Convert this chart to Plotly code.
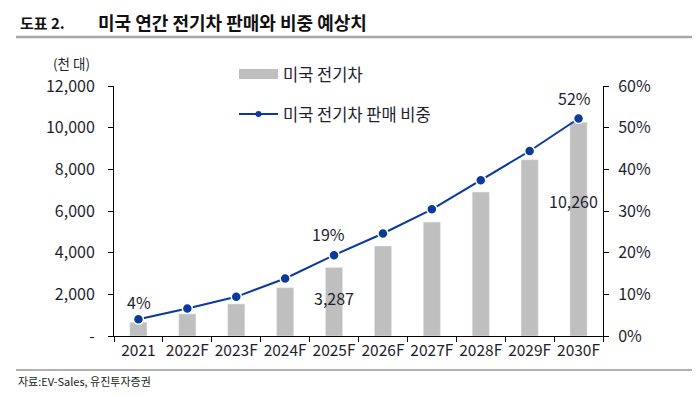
import plotly.graph_objects as go

categories = ["2021", "2022F", "2023F", "2024F", "2025F", "2026F", "2027F", "2028F", "2029F", "2030F"]
ev_sales = [660, 1060, 1540, 2320, 3287, 4320, 5470, 6910, 8460, 10260]
ev_share = [4.0, 6.6, 9.4, 13.8, 19.4, 24.6, 30.4, 37.4, 44.4, 52.2]
left_ticks = [0, 2000, 4000, 6000, 8000, 10000, 12000]
left_tick_text = ["-", "2,000", "4,000", "6,000", "8,000", "10,000", "12,000"]
right_ticks = [0, 10, 20, 30, 40, 50, 60]
right_tick_text = ["0%", "10%", "20%", "30%", "40%", "50%", "60%"]
bar_labels = {"2025F": "3,287", "2030F": "10,260"}
share_labels = {"2021": "4%", "2025F": "19%", "2030F": "52%"}

FONT = "Noto Sans CJK KR, Noto Sans, sans-serif"
BAR_C = "#bfbfbf"
LINE_C = "#0a3a9c"
TXT = "#1e1e2e"

# page is rendered with an 8px body margin; work in page pixels and offset
OFF = 8
W, H = 700 - OFF, 396 - OFF
L, R, T, B = 114 - OFF, 603 - OFF, 86 - OFF, 336 - OFF

def sx(x):
    return (x - OFF - L) / (R - L)
def sy(y):
    return (B - (y - OFF)) / (B - T)

fig = go.Figure()
fig.add_trace(go.Bar(x=categories, y=ev_sales, marker_color=BAR_C, width=0.35,
                     name="미국 전기차", yaxis="y"))
fig.add_trace(go.Scatter(x=categories, y=ev_share, mode="lines+markers", yaxis="y2",
                         line=dict(color=LINE_C, width=2),
                         marker=dict(size=10, color=LINE_C, line=dict(color="white", width=1.5)),
                         name="미국 전기차 판매 비중"))

bar_shift = {"2025F": (0, -30), "2030F": (-5, -79)}
share_shift = {"2021": (1, 17), "2025F": (-6, 21), "2030F": (-4, 21)}

ann = []
for c, t in bar_labels.items():
    i = categories.index(c)
    dx, dy = bar_shift[c]
    ann.append(dict(x=i, y=ev_sales[i], xref="x", yref="y", text=t, showarrow=False,
                    xshift=dx, yshift=dy, font=dict(size=16, color=TXT, family=FONT)))
for c, t in share_labels.items():
    i = categories.index(c)
    dx, dy = share_shift[c]
    ann.append(dict(x=i, y=ev_share[i], xref="x", yref="y2", text=t, showarrow=False,
                    xshift=dx, yshift=dy, font=dict(size=16, color=TXT, family=FONT)))

pix_ann = [
    dict(x=18, y=22, text="<b>도표 2.</b>", xanchor="left", size=15, color="#111"),
    dict(x=96, y=22, text="<b>미국 연간 전기차 판매와 비중 예상치</b>", xanchor="left", size=18, color="#111"),
    dict(x=71, y=63, text="(천 대)", xanchor="center", size=13.5, color=TXT),
    dict(x=281, y=74, text="미국 전기차", xanchor="left", size=16.5, color=TXT),
    dict(x=281, y=114, text="미국 전기차 판매 비중", xanchor="left", size=16.5, color=TXT),
    dict(x=16, y=381, text="자료:EV-Sales, 유진투자증권", xanchor="left", size=11, color="#222"),
]
for a in pix_ann:
    ann.append(dict(x=sx(a["x"]), y=sy(a["y"]), xref="paper", yref="paper", text=a["text"],
                    showarrow=False, xanchor=a["xanchor"], yanchor="middle",
                    font=dict(size=a["size"], color=a["color"], family=FONT)))

shapes = [
    dict(type="line", xref="paper", yref="paper", x0=sx(16), x1=sx(700), y0=sy(37), y1=sy(37),
         line=dict(color="#a6a6a6", width=2.5)),
    dict(type="line", xref="paper", yref="paper", x0=sx(16), x1=sx(700), y0=sy(370), y1=sy(370),
         line=dict(color="#b0b0b0", width=2)),
    dict(type="rect", xref="paper", yref="paper", x0=sx(239), x1=sx(278), y0=sy(79), y1=sy(69),
         fillcolor=BAR_C, line=dict(width=0)),
    dict(type="line", xref="paper", yref="paper", x0=sx(239), x1=sx(278), y0=sy(114), y1=sy(114),
         line=dict(color=LINE_C, width=2)),
    dict(type="circle", xref="paper", yref="paper", x0=sx(255.5), x1=sx(261.5), y0=sy(117), y1=sy(111),
         fillcolor=LINE_C, line=dict(color=LINE_C, width=0)),
]

fig.update_layout(
    width=W, height=H,
    margin=dict(l=L, r=W - R, t=T, b=H - B, autoexpand=False),
    paper_bgcolor="white", plot_bgcolor="white",
    showlegend=False,
    font=dict(family=FONT, size=15, color=TXT),
    annotations=ann, shapes=shapes,
    xaxis=dict(type="category", range=[-0.5, len(categories) - 0.5], autorange=False,
               showline=True, linecolor="black", linewidth=1, tickangle=0,
               ticks="outside", tickson="boundaries", ticklen=5, tickcolor="black",
               showgrid=False, tickfont=dict(size=15.5, color=TXT)),
    yaxis=dict(range=[0, 12000], autorange=False, tickvals=left_ticks, ticktext=left_tick_text,
               showline=True, linecolor="black", linewidth=1, ticks="outside", ticklen=5,
               tickcolor="black", showgrid=False, zeroline=False, ticklabelstandoff=10,
               tickfont=dict(size=16, color=TXT)),
    yaxis2=dict(range=[0, 60], autorange=False, tickvals=right_ticks, ticktext=right_tick_text,
                overlaying="y", side="right", showline=True, linecolor="black", linewidth=1,
                ticks="outside", ticklen=5, tickcolor="black", showgrid=False, zeroline=False,
                ticklabelstandoff=6, tickfont=dict(size=16, color=TXT)),
)

fig.write_html("out.html")
